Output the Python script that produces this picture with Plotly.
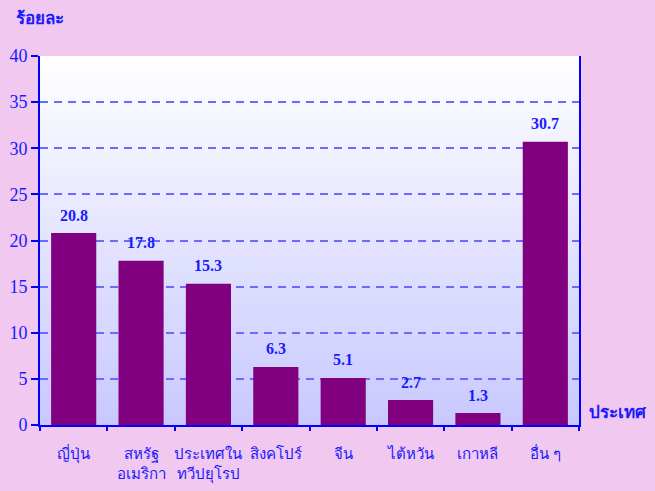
import plotly.graph_objects as go
import base64

categories = ["ญี่ปุ่น", "สหรัฐ<br>อเมริกา", "ประเทศใน<br>ทวีปยุโรป", "สิงคโปร์", "จีน", "ไต้หวัน", "เกาหลี", "อื่น ๆ"]
values = [20.8, 17.8, 15.3, 6.3, 5.1, 2.7, 1.3, 30.7]
labels = ["20.8", "17.8", "15.3", "6.3", "5.1", "2.7", "1.3", "30.7"]
y_ticks = [0, 5, 10, 15, 20, 25, 30, 35, 40]

blue = "#1a1aff"

svg = ('<svg xmlns="http://www.w3.org/2000/svg" width="100" height="100" preserveAspectRatio="none">'
       '<defs><linearGradient id="g" x1="0" y1="0" x2="0" y2="1">'
       '<stop offset="0" stop-color="#ffffff"/><stop offset="1" stop-color="#c8c8ff"/>'
       '</linearGradient></defs><rect width="100" height="100" fill="url(#g)"/></svg>')
svg_uri = "data:image/svg+xml;base64," + base64.b64encode(svg.encode()).decode()

fig = go.Figure()
fig.add_trace(go.Bar(
    x=list(range(len(categories))), y=values, marker=dict(color="#800080", line=dict(width=0)),
    width=0.67, showlegend=False, hoverinfo="skip",
))

L, R, T, B = 40, 76, 56, 66
W, H = 655 - L - R, 491 - T - B

def px(x, y):
    return (x - L) / W, (491 - B - y) / H

ax1, ay1 = px(14, 18)
ax2, ay2 = px(587, 412)

annotations = [
    dict(text="<b>ร้อยละ</b>", x=ax1, y=ay1, xref="paper", yref="paper", showarrow=False,
         xanchor="left", yanchor="middle", font=dict(size=17, color=blue)),
    dict(text="<b>ประเทศ</b>", x=ax2, y=ay2, xref="paper", yref="paper", showarrow=False,
         xanchor="left", yanchor="middle", font=dict(size=17, color=blue)),
]
for i, (v, t) in enumerate(zip(values, labels)):
    annotations.append(dict(text=f"<b>{t}</b>", x=i, y=v, xref="x", yref="y", showarrow=False,
                            xanchor="center", yanchor="middle", yshift=18,
                            font=dict(size=16, color=blue, family="Liberation Serif")))

fig.update_layout(
    width=655, height=491,
    margin=dict(l=L, r=R, t=T, b=B),
    paper_bgcolor="#f0c8f0", plot_bgcolor="rgba(0,0,0,0)",
    font=dict(family="Liberation Serif", color=blue),
    images=[dict(source=svg_uri, xref="paper", yref="paper", x=0, y=1, sizex=1, sizey=1,
                 xanchor="left", yanchor="top", sizing="stretch", layer="below")],
    annotations=annotations,
)

fig.update_xaxes(
    range=[-0.5, 7.5], tickmode="array", tickvals=list(range(len(categories))), ticktext=categories,
    showgrid=False, showline=True, linecolor="#0000ff", linewidth=2, automargin=False,
    ticks="", ticklabelstandoff=14, tickfont=dict(size=15, color=blue, family="Liberation Serif"),
    zeroline=False,
    minor=dict(tickmode="array", tickvals=[i + 0.5 for i in range(-1, 8)], ticks="outside",
               ticklen=4, tickwidth=2, tickcolor="#0000ff", showgrid=False),
)
fig.update_yaxes(
    range=[0, 40], tickvals=y_ticks, showline=True, linecolor="#0000ff", linewidth=2, mirror=True,
    ticks="outside", ticklen=7, tickwidth=2, tickcolor="#0000ff", automargin=False,
    showgrid=True, gridcolor="#6a6aff", griddash="8px,6px", gridwidth=2,
    tickfont=dict(size=18, color=blue, family="Liberation Serif"), zeroline=False,
)

fig.write_html("out.html", config={"displayModeBar": False},
               post_script="document.body.style.margin='0';document.body.style.overflow='hidden';")
